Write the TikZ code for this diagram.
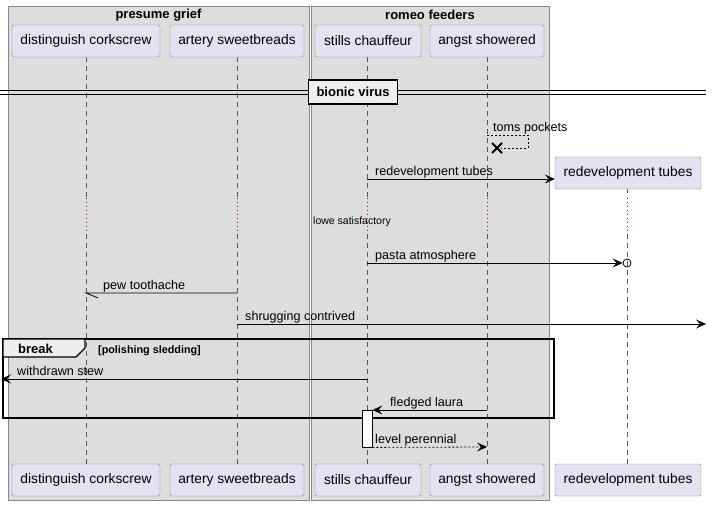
\documentclass[tikz,border=0pt]{standalone}
\usepackage{fontspec}
\setmainfont{Liberation Sans}
\usetikzlibrary{arrows.meta}
\definecolor{grpbg}{HTML}{DDDDDD}
\definecolor{grpline}{HTML}{888888}
\definecolor{partbg}{HTML}{E2E2F0}
\definecolor{partline}{HTML}{888888}
\definecolor{lifeline}{HTML}{555555}
\definecolor{delayred}{HTML}{A80036}
\definecolor{tabbg}{HTML}{EEEEEE}
\begin{document}
\begin{tikzpicture}[x=1pt,y=-1pt,
  part/.style={draw=partline,fill=partbg,rounded corners=2pt,minimum height=32pt,inner xsep=0pt,font=\fontsize{13.8}{15}\selectfont},
  grp/.style={draw=grpline,fill=grpbg,line width=0.8pt},
  life/.style={draw=lifeline,dash pattern=on 5pt off 4pt,line width=0.6pt},
  delay/.style={draw=delayred,dash pattern=on 1pt off 3pt,line width=0.8pt},
  msg/.style={draw=black,line width=0.8pt},
  tip/.style={-{Stealth[length=10pt,width=9pt,inset=4pt]}},
  lbl/.style={font=\fontsize{12.6}{14}\selectfont,inner sep=0pt,anchor=base west},
  grptitle/.style={font=\bfseries\fontsize{13}{14}\selectfont,inner sep=0pt}]
\useasboundingbox (0,0) rectangle (712,506);
\fill[white] (0,0) rectangle (712,506);
% groups
\draw[grp] (8,6) rectangle (309,500);
\draw[grp] (311,6) rectangle (549,500);
\node[grptitle] (g1) at (158.5,15) {presume grief};
\node[grptitle] (g2) at (430,15) {romeo feeders};
% lifelines
\foreach \x in {86,237,367,487} {
  \draw[life] (\x,57) -- (\x,197);
  \draw[delay] (\x,198) -- (\x,233);
  \draw[life] (\x,234) -- (\x,464);
}
\draw[life] (627,188) -- (627,197);
\draw[delay] (627,198) -- (627,233);
\draw[life] (627,234) -- (627,464);
% participants top
\node[part,minimum width=148pt] (dct) at (86,41) {distinguish corkscrew};
\node[part,minimum width=134pt] (ast) at (237,41) {artery sweetbreads};
\node[part,minimum width=106pt] (sct) at (368,41) {stills chauffeur};
\node[part,minimum width=114pt] (agt) at (487,41) {angst showered};
% participants bottom
\node[part,minimum width=148pt] (dcb) at (86,480) {distinguish corkscrew};
\node[part,minimum width=134pt] (asb) at (237,480) {artery sweetbreads};
\node[part,minimum width=106pt] (scb) at (368,480) {stills chauffeur};
\node[part,minimum width=114pt] (agb) at (487,480) {angst showered};
\node[part,minimum width=146pt] (rtb) at (628,480) {redevelopment tubes};
% divider
\draw[line width=0.8pt] (0,90.5) -- (706,90.5);
\draw[line width=0.8pt] (0,94) -- (706,94);
\node[draw=black,line width=1.5pt,fill=tabbg,font=\bfseries\fontsize{13}{14}\selectfont,minimum height=24pt,minimum width=89pt,inner xsep=0pt] (div) at (353,92) {bionic virus};
% toms pockets (self, destroy)
\coordinate (tp1) at (487,135);
\coordinate (tp2) at (528,135);
\coordinate (tp3) at (528,148);
\coordinate (tpx) at (497,148);
\draw[line width=0.6pt,dash pattern=on 2pt off 2pt] (tp1) -- (tp2) -- (tp3) -- ([xshift=4pt]tpx);
\draw[line width=2pt] ([shift={(-5,-5)}]tpx) -- ([shift={(5,5)}]tpx);
\draw[line width=2pt] ([shift={(-5,5)}]tpx) -- ([shift={(5,-5)}]tpx);
\node[lbl] (tpl) at (493,131) {toms pockets};
% created participant
\node[part,minimum width=146pt] (rtt) at (628,173) {redevelopment tubes};
\coordinate (rd1) at (367,179);
\draw[msg,tip] (rd1) -- (rtt.west |- rd1);
\node[lbl] (rdl) at (375,175) {redevelopment tubes};
% delay text
\node[font=\fontsize{10.5}{12}\selectfont,inner sep=0pt,anchor=base west] (dl) at (313,224) {lowe satisfactory};
% pasta atmosphere
\coordinate (pa1) at (367,263);
\node[draw,circle,minimum size=8pt,inner sep=0pt,line width=0.8pt] (pac) at (627,263) {};
\draw[msg,tip] (pa1) -- (pac.west);
\node[lbl] (pal) at (375,259) {pasta atmosphere};
% pew toothache
\coordinate (pt1) at (237,293);
\coordinate (pt2) at (86,293);
\draw[msg] (pt1) -- (pt2) -- ++(12,5);
\node[lbl] (ptl) at (103,289) {pew toothache};
% shrugging contrived
\coordinate (sc1) at (237,324);
\coordinate (sc2) at (706,324);
\draw[msg,tip] (sc1) -- (sc2);
\node[lbl] (scl) at (245,320) {shrugging contrived};
% break frame
\draw[line width=1.5pt] (3,339) rectangle (554,418);
\draw[line width=1.2pt,fill=tabbg] (3,339) -- (85,339) -- (85,348) -- (76,357) -- (3,357) -- cycle;
\node[font=\bfseries\fontsize{13}{14}\selectfont,inner sep=0pt,anchor=base west] (brk) at (18,353) {break};
\node[font=\bfseries\fontsize{10.8}{12}\selectfont,inner sep=0pt,anchor=base west] (cond) at (98,353) {[polishing sledding]};
% withdrawn stew
\coordinate (ws1) at (367,379);
\coordinate (ws2) at (1,379);
\draw[msg,tip] (ws1) -- (ws2);
\node[lbl] (wsl) at (17,375) {withdrawn stew};
% activation
\node[draw=black,fill=white,line width=0.8pt,minimum width=10pt,minimum height=37pt,inner sep=0pt] (act) at (367,428.5) {};
% fledged laura
\coordinate (fl1) at (487,410);
\draw[msg,tip] (fl1) -- (act.east |- fl1);
\node[lbl] (fll) at (390,406) {fledged laura};
% level perennial
\coordinate (lp1) at (487,447);
\draw[msg,tip,dash pattern=on 2pt off 2pt] (act.south east) -- (lp1);
\node[lbl] (lpl) at (375,443) {level perennial};
\end{tikzpicture}
\end{document}
